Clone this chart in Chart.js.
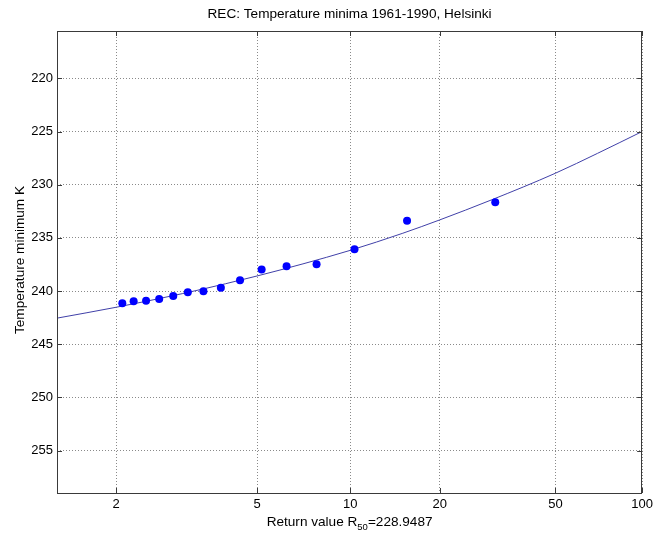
<!DOCTYPE html>
<html>
<head>
<meta charset="utf-8">
<title>REC: Temperature minima 1961-1990, Helsinki</title>
<script src="https://cdn.jsdelivr.net/npm/chart.js@4.4.0/dist/chart.umd.min.js"></script>
<style>
  html, body { margin: 0; padding: 0; background: #fff; }
  canvas { display: block; }
</style>
</head>
<body>
<canvas id="grafico" width="657" height="538"></canvas>
<script>
// Observed minima (30 winters, plotting position 31/i)
const obsPeriods = [31, 15.5, 10.33, 7.75, 6.2, 5.17, 4.43, 3.875, 3.44, 3.1, 2.82, 2.58, 2.38, 2.21, 2.07];
const obsMinima = [231.65, 233.38, 236.07, 237.48, 237.66, 237.98, 238.98, 239.68, 240.01, 240.11, 240.46, 240.74, 240.90, 240.95, 241.14];

// Fitted return level curve
const fitPeriods = [1.48, 2, 3, 4, 5, 7, 10, 15, 20, 30, 50, 70, 100];
const fitMinima = [242.56, 241.52, 240.23, 239.31, 238.58, 237.44, 236.17, 234.56, 233.31, 231.44, 228.92, 227.05, 225.0];

// Axis ticks
const xTicks = [2, 5, 10, 20, 50, 100];
const yTicks = [220, 225, 230, 235, 240, 245, 250, 255];

const titleText = 'REC: Temperature minima 1961-1990, Helsinki';
const yLabel = 'Temperature minimum K';

// Gumbel reduced variate for a return period T
const gumbel = T => -Math.log(-Math.log(1 - 1 / T));

const FAMILY = '"Liberation Sans", Arial, sans-serif';
const FONT = '13.6px ' + FAMILY;
const FONT_SMALL = '9.5px ' + FAMILY;

// Frame, inward ticks, title and axis labels drawn MATLAB style
const matlabFrame = {
    id: 'matlabFrame',
    beforeDraw(chart) {
        const ctx = chart.ctx;
        ctx.save();
        ctx.fillStyle = '#fff';
        ctx.fillRect(0, 0, chart.width, chart.height);
        ctx.restore();
    },
    afterDraw(chart) {
        const ctx = chart.ctx;
        const a = chart.chartArea;
        const xs = chart.scales.x;
        const ys = chart.scales.y;
        ctx.save();
        ctx.strokeStyle = '#3a3a3a';
        ctx.lineWidth = 1;
        ctx.strokeRect(Math.round(a.left) + 0.5, Math.round(a.top) + 0.5,
            Math.round(a.right - a.left) - 1, Math.round(a.bottom - a.top));

        // inward tick marks on all four sides
        ctx.beginPath();
        xTicks.forEach(T => {
            const px = Math.round(xs.getPixelForValue(gumbel(T))) + 0.5;
            ctx.moveTo(px, a.bottom); ctx.lineTo(px, a.bottom - 5);
            ctx.moveTo(px, a.top); ctx.lineTo(px, a.top + 5);
        });
        yTicks.forEach(v => {
            const py = Math.round(ys.getPixelForValue(v)) + 0.5;
            ctx.moveTo(a.left, py); ctx.lineTo(a.left + 5, py);
            ctx.moveTo(a.right, py); ctx.lineTo(a.right - 5, py);
        });
        ctx.stroke();

        ctx.fillStyle = '#000';
        ctx.font = FONT;
        ctx.textBaseline = 'middle';
        ctx.textAlign = 'center';
        const cx = (a.left + a.right) / 2;
        ctx.fillText(titleText, cx, 14);

        // x label with subscript
        const p1 = 'Return value R';
        const sub = '50';
        const p2 = '=228.9487';
        ctx.font = FONT;
        const w1 = ctx.measureText(p1).width;
        const w3 = ctx.measureText(p2).width;
        ctx.font = FONT_SMALL;
        const w2 = ctx.measureText(sub).width;
        let x0 = cx - (w1 + w2 + w3) / 2;
        ctx.textAlign = 'left';
        ctx.font = FONT;
        ctx.fillText(p1, x0, 522);
        ctx.font = FONT_SMALL;
        ctx.fillText(sub, x0 + w1, 527);
        ctx.font = FONT;
        ctx.fillText(p2, x0 + w1 + w2, 522);

        // y label
        ctx.translate(20, (a.top + a.bottom) / 2 - 2);
        ctx.rotate(-Math.PI / 2);
        ctx.textAlign = 'center';
        ctx.fillText(yLabel, 0, 0);
        ctx.restore();
    }
};

function showChart() {
    const ctx = document.getElementById('grafico').getContext('2d');

    new Chart(ctx, {
        type: 'scatter',
        data: {
            datasets: [{
                label: 'observed',
                data: obsPeriods.map((T, i) => ({ x: gumbel(T), y: obsMinima[i] })),
                backgroundColor: '#0000ff',
                borderColor: '#0000ff',
                pointRadius: 4,
                pointHoverRadius: 4,
                borderWidth: 0,
                showLine: false
            }, {
                label: 'fit',
                data: fitPeriods.map((T, i) => ({ x: gumbel(T), y: fitMinima[i] })),
                borderColor: '#4040a8',
                borderWidth: 1,
                pointRadius: 0,
                showLine: true,
                cubicInterpolationMode: 'monotone'
            }]
        },
        options: {
            responsive: false,
            animation: false,
            devicePixelRatio: 1,
            layout: { padding: { left: 0, right: 13, top: 31, bottom: 0 } },
            plugins: {
                legend: { display: false },
                tooltip: { enabled: false },
                title: { display: false }
            },
            scales: {
                x: {
                    type: 'linear',
                    min: -0.110,
                    max: gumbel(100),
                    afterBuildTicks: scale => {
                        scale.ticks = xTicks.map(T => ({ value: gumbel(T) }));
                    },
                    afterFit: scale => { scale.height = 45; },
                    ticks: {
                        callback: (value, index) => String(xTicks[index]),
                        color: '#000',
                        font: { family: FAMILY, size: 13 },
                        padding: 4,
                        maxRotation: 0,
                        autoSkip: false
                    },
                    grid: { color: '#8a8a8a', lineWidth: 1, drawTicks: false },
                    border: { display: false, dash: [1, 2] }
                },
                y: {
                    type: 'linear',
                    reverse: true,
                    min: 215.55,
                    max: 258.98,
                    afterBuildTicks: scale => {
                        scale.ticks = yTicks.map(v => ({ value: v }));
                    },
                    afterFit: scale => { scale.width = 57; },
                    ticks: {
                        color: '#000',
                        font: { family: FAMILY, size: 13 },
                        padding: 4,
                        autoSkip: false
                    },
                    grid: { color: '#8a8a8a', lineWidth: 1, drawTicks: false },
                    border: { display: false, dash: [1, 2] }
                }
            }
        },
        plugins: [matlabFrame]
    });
}

document.addEventListener('DOMContentLoaded', showChart);
</script>
</body>
</html>
